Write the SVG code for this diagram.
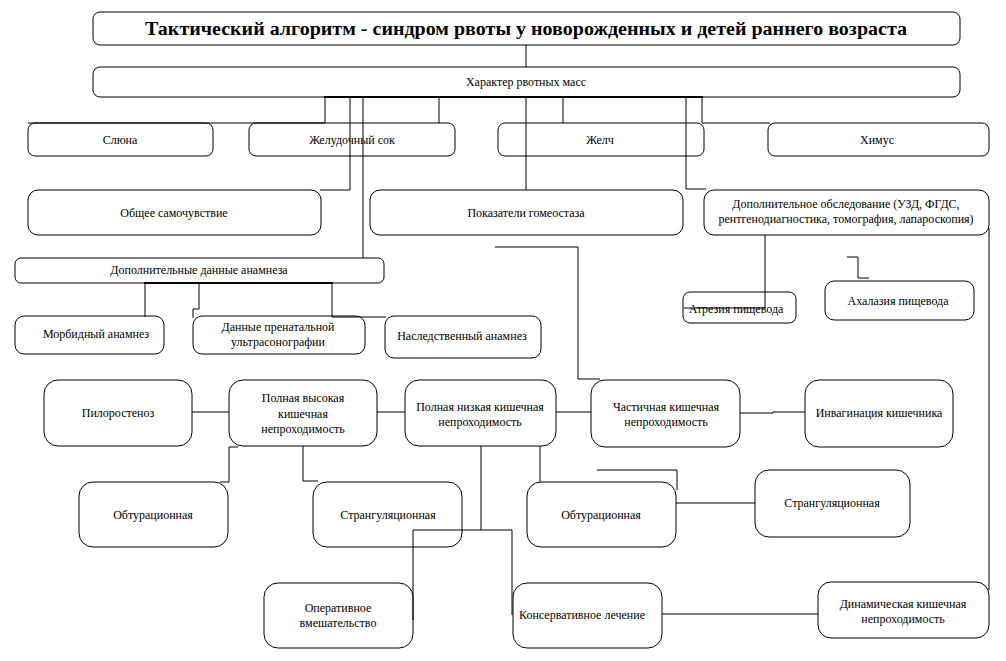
<svg xmlns="http://www.w3.org/2000/svg" width="1006" height="661" viewBox="0 0 1006 661">
<style>
.b{fill:#fff;stroke:#000;stroke-width:1}
.t{font-family:"Liberation Serif","Times New Roman",serif;font-size:12px;fill:#000;text-anchor:middle}
.c{fill:none;stroke:#000;stroke-width:1}
.k{fill:none;stroke:#000;stroke-width:2}
</style>
<rect width="1006" height="661" fill="#fff"/>
<g id="title"><rect class="b" x="93" y="12" width="867" height="33" rx="7"/><text class="t" x="526" y="35" style="font-size:18px;font-weight:bold" textLength="762" lengthAdjust="spacingAndGlyphs">Тактический алгоритм - синдром рвоты у новорожденных и детей раннего возраста</text></g>
<g id="harakter"><rect class="b" x="93" y="67" width="867" height="30" rx="7"/><text class="t" x="526" y="86">Характер рвотных масс</text></g>
<g id="sliuna"><rect class="b" x="28" y="123" width="185" height="33" rx="7"/><text class="t" x="120" y="144">Слюна</text></g>
<g id="zheludochny"><rect class="b" x="249" y="123" width="206" height="33" rx="7"/><text class="t" x="352" y="144">Желудочный сок</text></g>
<g id="zhelch"><rect class="b" x="498" y="123" width="206" height="33" rx="7"/><text class="t" x="600" y="144">Желч</text></g>
<g id="himus"><rect class="b" x="768" y="123" width="221" height="33" rx="7"/><text class="t" x="877" y="144">Химус</text></g>
<g id="obshee"><rect class="b" x="28" y="190" width="293" height="45" rx="10"/><text class="t" x="174" y="217">Общее самочувствие</text></g>
<g id="gomeostaz"><rect class="b" x="370" y="190" width="313" height="45" rx="10"/><text class="t" x="526" y="217">Показатели гомеостаза</text></g>
<g id="obsledovanie"><rect class="b" x="704" y="190" width="285" height="45" rx="10"/><text class="t" x="846" y="208">Дополнительное обследование (УЗД, ФГДС,</text><text class="t" x="846" y="223">рентгенодиагностика, томография, лапароскопия)</text></g>
<g id="anamnez"><rect class="b" x="15" y="258" width="369" height="25" rx="6"/><text class="t" x="199" y="274">Дополнительные данные анамнеза</text></g>
<g id="atrezia"><rect class="b" x="683" y="292" width="113" height="31" rx="7"/><text class="t" x="736" y="313">Атрезия пищевода</text></g>
<g id="ahalazia"><rect class="b" x="825" y="281" width="149" height="39" rx="9"/><text class="t" x="898" y="305">Ахалазия пищевода</text></g>
<g id="morbid"><rect class="b" x="15" y="316" width="149" height="38" rx="9"/><text class="t" x="96" y="338">Морбидный анамнез</text></g>
<g id="prenatal"><rect class="b" x="193" y="316" width="172" height="38" rx="9"/><text class="t" x="278" y="331">Данные пренатальной</text><text class="t" x="278" y="346">ультрасонографии</text></g>
<g id="nasledstv"><rect class="b" x="385" y="316" width="156" height="42" rx="9"/><text class="t" x="462" y="340">Наследственный анамнез</text></g>
<g id="piloro"><rect class="b" x="44" y="380" width="148" height="66" rx="14"/><text class="t" x="118" y="417">Пилоростеноз</text></g>
<g id="vysokaya"><rect class="b" x="229" y="380" width="148" height="66" rx="14"/><text class="t" x="303" y="402">Полная высокая</text><text class="t" x="303" y="418">кишечная</text><text class="t" x="303" y="433">непроходимость</text></g>
<g id="nizkaya"><rect class="b" x="405" y="380" width="151" height="66" rx="14"/><text class="t" x="480" y="411">Полная низкая кишечная</text><text class="t" x="480" y="426">непроходимость</text></g>
<g id="chastichnaya"><rect class="b" x="591" y="380" width="149" height="67" rx="14"/><text class="t" x="666" y="411">Частичная кишечная</text><text class="t" x="666" y="426">непроходимость</text></g>
<g id="invaginacia"><rect class="b" x="805" y="380" width="148" height="67" rx="14"/><text class="t" x="879" y="417">Инвагинация кишечника</text></g>
<g id="obtur1"><rect class="b" x="79" y="482" width="149" height="65" rx="14"/><text class="t" x="153" y="519">Обтурационная</text></g>
<g id="strang1"><rect class="b" x="313" y="482" width="149" height="65" rx="14"/><text class="t" x="388" y="519">Странгуляционная</text></g>
<g id="obtur2"><rect class="b" x="527" y="482" width="149" height="65" rx="14"/><text class="t" x="601" y="519">Обтурационная</text></g>
<g id="strang2"><rect class="b" x="755" y="470" width="155" height="67" rx="14"/><text class="t" x="832" y="507">Странгуляционная</text></g>
<g id="operativ"><rect class="b" x="264" y="583" width="149" height="65" rx="14"/><text class="t" x="338" y="612">Оперативное</text><text class="t" x="338" y="627">вмешательство</text></g>
<g id="konserv"><rect class="b" x="513" y="583" width="149" height="65" rx="14"/><text class="t" x="582" y="619">Консервативное лечение</text></g>
<g id="dinamich"><rect class="b" x="818" y="582" width="171" height="56" rx="13"/><text class="t" x="903" y="608">Динамическая кишечная</text><text class="t" x="903" y="623">непроходимость</text></g>
<g id="connectors">
<path class="c" d="M526,45V67"/>
<path class="k" d="M324,97H703"/>
<path class="c" d="M325,97V123H28"/>
<path class="c" d="M350,97V190H320"/>
<path class="c" d="M363,97V258"/>
<path class="c" d="M439,97V123"/>
<path class="c" d="M526,97V190"/>
<path class="c" d="M563,97V123"/>
<path class="c" d="M686,97V189H706"/>
<path class="c" d="M702,97V123H770"/>
<path class="c" d="M765,235V308H684"/>
<path class="c" d="M847,257H858V278H869"/>
<path class="c" d="M989,228V590"/>
<path class="k" d="M144,283H333"/>
<path class="c" d="M145,283V317"/>
<path class="c" d="M199,283V309H193V318"/>
<path class="c" d="M332,283V317H386"/>
<path class="c" d="M495,247H578V379H600"/>
<path class="c" d="M192,412H229"/>
<path class="c" d="M377,412H405"/>
<path class="c" d="M556,412H591"/>
<path class="c" d="M740,413H773V412H805"/>
<path class="c" d="M238,447H229V482H220"/>
<path class="c" d="M303,446V481H318"/>
<path class="c" d="M481,446V530H413V620"/>
<path class="c" d="M481,530H512V615"/>
<path class="c" d="M540,446V482"/>
<path class="c" d="M597,470H677V490"/>
<path class="c" d="M676,503H755"/>
<path class="c" d="M662,614H818"/>
</g>
</svg>
